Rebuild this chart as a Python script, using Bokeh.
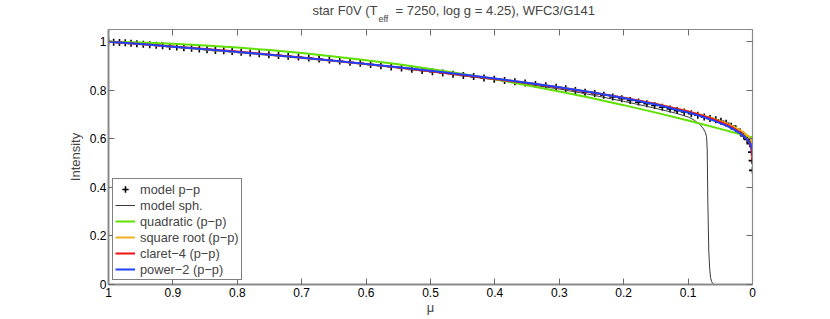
from bokeh.plotting import figure
from bokeh.models import Range1d, LinearAxis, Title, FixedTicker
from bokeh.embed import file_html
from bokeh.resources import INLINE

# ---- data ----
mu_pp = [1.000, 0.992, 0.983, 0.974, 0.965, 0.956, 0.946, 0.936, 0.926, 0.916,
         0.905, 0.894, 0.883, 0.871, 0.859, 0.847, 0.834, 0.821, 0.808, 0.794,
         0.780, 0.766, 0.751, 0.736, 0.721, 0.705, 0.689, 0.673, 0.657, 0.641,
         0.625, 0.609, 0.593, 0.577, 0.561, 0.545, 0.529, 0.513, 0.497, 0.481,
         0.465, 0.449, 0.433, 0.417, 0.401, 0.385, 0.369, 0.353, 0.337, 0.321,
         0.305, 0.290, 0.275, 0.260, 0.245, 0.231, 0.217, 0.203, 0.190, 0.177,
         0.164, 0.152, 0.140, 0.128, 0.117, 0.106, 0.095, 0.085, 0.075, 0.066,
         0.057, 0.049, 0.041, 0.033, 0.026, 0.019, 0.0135, 0.0083, 0.004, 0.0015,
         0.0006, 0.0]
I_pp = [1.000, 0.998, 0.996, 0.995, 0.993, 0.991, 0.989, 0.987, 0.985, 0.983,
        0.980, 0.978, 0.975, 0.973, 0.970, 0.967, 0.964, 0.962, 0.959, 0.956,
        0.953, 0.950, 0.946, 0.943, 0.940, 0.937, 0.933, 0.929, 0.924, 0.920,
        0.915, 0.911, 0.906, 0.901, 0.896, 0.891, 0.886, 0.881, 0.876, 0.871,
        0.866, 0.861, 0.856, 0.850, 0.845, 0.840, 0.835, 0.830, 0.824, 0.818,
        0.812, 0.806, 0.799, 0.792, 0.786, 0.779, 0.772, 0.765, 0.758, 0.751,
        0.744, 0.737, 0.730, 0.723, 0.716, 0.710, 0.703, 0.697, 0.690, 0.684,
        0.678, 0.672, 0.664, 0.652, 0.641, 0.628, 0.612, 0.597, 0.580, 0.545,
        0.510, 0.470]

mu_sph = [1.0, 0.9, 0.8, 0.7, 0.6, 0.5, 0.4, 0.3, 0.25, 0.2, 0.17, 0.14, 0.12,
          0.10, 0.09, 0.081, 0.076, 0.073, 0.0714, 0.0703, 0.0694, 0.0679,
          0.0665, 0.0652, 0.0635, 0.0616, 0.06, 0.0]
I_sph = [1.0, 0.979, 0.957, 0.936, 0.908, 0.876, 0.843, 0.805, 0.781, 0.754,
         0.737, 0.719, 0.706, 0.690, 0.676, 0.657, 0.640, 0.625, 0.609, 0.554,
         0.347, 0.140, 0.065, 0.030, 0.012, 0.004, 0.0, 0.0]

mu_quad = [1.00, 0.95, 0.90, 0.85, 0.80, 0.75, 0.70, 0.65, 0.60, 0.55, 0.50,
           0.45, 0.40, 0.35, 0.30, 0.25, 0.20, 0.15, 0.10, 0.05, 0.00]
I_quad = [1.000, 0.9964, 0.9911, 0.9842, 0.9755, 0.9651, 0.9530, 0.9392,
          0.9237, 0.9065, 0.8876, 0.8670, 0.8447, 0.8207, 0.7950, 0.7676,
          0.7385, 0.7077, 0.6751, 0.6409, 0.6050]

mu_fit = [1.0, 0.95, 0.9, 0.85, 0.8, 0.75, 0.7, 0.65, 0.6, 0.55, 0.5, 0.45,
          0.4, 0.35, 0.3, 0.25, 0.2, 0.15, 0.1, 0.08, 0.06, 0.04, 0.03, 0.02,
          0.015, 0.01, 0.007, 0.005, 0.003, 0.002, 0.001, 0.0005, 0.0002, 0.0]
I_sqrt = [1.000, 0.9897, 0.9790, 0.9680, 0.9567, 0.9450, 0.9329, 0.9203,
          0.9071, 0.8934, 0.8790, 0.8638, 0.8477, 0.8305, 0.8119, 0.7917,
          0.7692, 0.7436, 0.7130, 0.6986, 0.6822, 0.6627, 0.6510, 0.6371,
          0.6289, 0.6190, 0.6119, 0.6062, 0.5992, 0.5947, 0.5890, 0.5849,
          0.5813, 0.5750]
I_claret = [1.000, 0.9905, 0.9805, 0.9700, 0.9590, 0.9472, 0.9345, 0.9212,
            0.9075, 0.8932, 0.8783, 0.8628, 0.8465, 0.8292, 0.8108, 0.7908,
            0.7688, 0.7430, 0.7120, 0.6968, 0.6795, 0.6580, 0.6445, 0.6275,
            0.6165, 0.6030, 0.5925, 0.5830, 0.5700, 0.5600, 0.5450, 0.5330,
            0.5220, 0.5100]
I_power2 = [1.000, 0.9898, 0.9793, 0.9685, 0.9574, 0.9458, 0.9338, 0.9212,
            0.9082, 0.8945, 0.8800, 0.8648, 0.8485, 0.8311, 0.8122, 0.7913,
            0.7680, 0.7411, 0.7086, 0.6929, 0.6749, 0.6530, 0.6397, 0.6236,
            0.6137, 0.6018, 0.5929, 0.5857, 0.5766, 0.5706, 0.5626, 0.5567,
            0.5512, 0.5400]

x_ticks = [0, 0.1, 0.2, 0.3, 0.4, 0.5, 0.6, 0.7, 0.8, 0.9, 1.0]
y_ticks = [0, 0.2, 0.4, 0.6, 0.8, 1.0]

title_main = "star F0V (T\u00a0\u00a0\u00a0\u00a0\u00a0= 7250, log g = 4.25), WFC3/G141"
title_sub = "eff"

FONT = "Liberation Sans"
AXIS_GRAY = "#8a8a8a"
TICK_GRAY = "#6a6a6a"

p = figure(width=830, height=319, x_range=Range1d(1, 0), y_range=Range1d(0, 1.05),
           output_backend="svg", toolbar_location=None,
           min_border_left=108, min_border_right=78, min_border_top=29,
           min_border_bottom=35)
p.outline_line_color = None
p.xgrid.visible = False
p.ygrid.visible = False
p.background_fill_color = "white"
p.border_fill_color = "white"

p.scatter(mu_pp, I_pp, marker="cross", size=7, line_width=1.6, color="black",
          legend_label="model p\u2212p")
p.line(mu_sph, I_sph, line_width=1, color="#3a3a3a", legend_label="model sph.")
p.line(mu_quad, I_quad, line_width=2, color="#5fe000", legend_label="quadratic (p\u2212p)")
p.line(mu_fit, I_sqrt, line_width=2, color="#f0b020", legend_label="square root (p\u2212p)")
p.line(mu_fit, I_claret, line_width=2, color="#f01010", legend_label="claret\u22124 (p\u2212p)")
p.line(mu_fit, I_power2, line_width=2, color="#2040ff", legend_label="power\u22122 (p\u2212p)")

def style_axis(ax, labels=True, width=1.5):
    ax.axis_line_color = AXIS_GRAY
    ax.axis_line_width = width
    ax.major_tick_line_color = TICK_GRAY
    ax.major_tick_in = 6
    ax.major_tick_out = 0
    ax.minor_tick_line_color = None
    ax.major_label_text_font = FONT
    if labels:
        ax.major_label_text_font_size = "12px"
        ax.major_label_text_color = "black"
        ax.major_label_standoff = 3
    else:
        ax.major_label_text_font_size = "0px"
        ax.major_label_text_color = None
        ax.major_label_standoff = 0

p.xaxis.ticker = FixedTicker(ticks=x_ticks)
p.yaxis.ticker = FixedTicker(ticks=y_ticks)
style_axis(p.xaxis[0], True, 2)
style_axis(p.yaxis[0], True, 2)
p.yaxis.major_label_standoff = 2
p.xaxis.axis_label = "\u03bc"
p.yaxis.axis_label = "Intensity"
for ax in (p.xaxis[0], p.yaxis[0]):
    ax.axis_label_text_font = FONT
    ax.axis_label_text_font_size = "13px"
    ax.axis_label_text_font_style = "normal"
p.xaxis.axis_label_standoff = 0
p.yaxis.axis_label_standoff = 4

top = LinearAxis(ticker=FixedTicker(ticks=x_ticks))
right = LinearAxis(ticker=FixedTicker(ticks=y_ticks))
style_axis(top, False, 1.2)
style_axis(right, False, 1.2)
p.add_layout(top, "above")
p.add_layout(right, "right")

# title with subscript: subscript row nearest the frame, main row drawn over it
t_sub = Title(text=title_sub, align="left", offset=270, standoff=7,
              vertical_align="top",
              text_font=FONT, text_font_size="9px", text_font_style="normal")
t_main = Title(text=title_main, align="left", offset=204, standoff=-15,
               vertical_align="bottom",
               text_font=FONT, text_font_size="13px", text_font_style="normal")
p.add_layout(t_sub, "above")
p.add_layout(t_main, "above")

lg = p.legend[0]
lg.location = (4, 4)
lg.label_text_font = FONT
lg.label_text_font_size = "12.8px"
lg.glyph_width = 20
lg.glyph_height = 16
lg.label_height = 16
lg.label_standoff = 5
lg.spacing = 0
lg.padding = 2
lg.margin = 0
lg.border_line_color = "black"
lg.border_line_width = 1
lg.background_fill_alpha = 1

open("out.html", "w").write(file_html(p, INLINE))
